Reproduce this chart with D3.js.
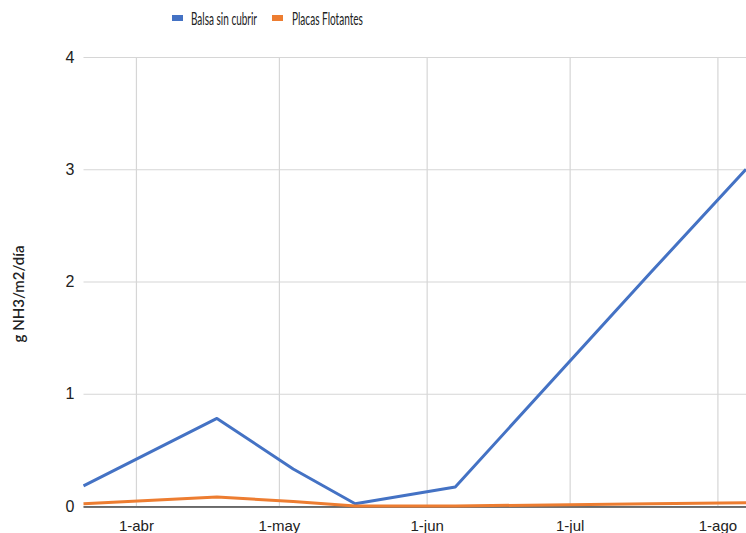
<!DOCTYPE html>
<html>
<head>
<meta charset="utf-8">
<script src="https://cdn.jsdelivr.net/npm/d3@7/dist/d3.min.js"></script>
<style>
  html, body { margin: 0; padding: 0; background: #fff; }
  svg { display: block; font-family: Lato, "Open Sans", sans-serif; }
</style>
</head>
<body>
<svg id="chart" width="746" height="533"></svg>
<script>
// Sampling dates (day-month) and daily NH3 emission per surface
const fechas = ["2021-03-21", "2021-04-18", "2021-05-04", "2021-05-17", "2021-06-07", "2021-07-18", "2021-08-07"];
const balsaSinCubrir = [0.18, 0.78, 0.33, 0.02, 0.17, 2.08, 3.0];
const placasFlotantes = [0.02, 0.08, 0.04, 0.0, 0.0, 0.02, 0.03];
const seriesNames = ["Balsa sin cubrir", "Placas Flotantes"];
const seriesColors = ["#4472C4", "#ED7D31"];
const monthTicks = ["2021-04-01", "2021-05-01", "2021-06-01", "2021-07-01", "2021-08-01"];
const monthLabels = ["1-abr", "1-may", "1-jun", "1-jul", "1-ago"];
const yTicks = [0, 1, 2, 3, 4];
const yTitle = "g NH3/m2/día";

const parse = d3.timeParse("%Y-%m-%d");
const dates = fechas.map(parse);
const tickDates = monthTicks.map(parse);

const svg = d3.select("#chart");
const margin = { left: 83.5, right: 0, top: 57, bottom: 27 };
const W = 746, H = 533;

const x = d3.scaleTime()
  .domain([dates[0], dates[dates.length - 1]])
  .range([margin.left, W - margin.right]);
const y = d3.scaleLinear()
  .domain([0, 4])
  .range([H - margin.bottom, margin.top]);

// Horizontal gridlines with value labels
const yAxis = d3.axisLeft(y)
  .tickValues(yTicks)
  .tickSize(-(W - margin.left))
  .tickPadding(9)
  .tickFormat(d3.format("d"));
const gy = svg.append("g")
  .attr("transform", `translate(${margin.left},0)`)
  .call(yAxis);
gy.select(".domain").remove();
gy.selectAll(".tick line").attr("stroke", "#d6d6d6").attr("stroke-width", 1.2);
gy.selectAll(".tick text")
  .attr("fill", "#222")
  .attr("font-size", 16);

// Vertical gridlines at the first day of each month
const xAxis = d3.axisBottom(x)
  .tickValues(tickDates)
  .tickSize(-(y(0) - y(4)))
  .tickPadding(14)
  .tickFormat((d, i) => monthLabels[i]);
const gx = svg.append("g")
  .attr("transform", `translate(0,${y(0)})`)
  .call(xAxis);
gx.select(".domain").remove();
gx.selectAll(".tick line").attr("stroke", "#d6d6d6").attr("stroke-width", 1.2);
gx.selectAll(".tick text")
  .attr("fill", "#222")
  .attr("font-size", 15);

// Baseline
svg.append("line")
  .attr("x1", margin.left).attr("x2", W)
  .attr("y1", y(0) + 1).attr("y2", y(0) + 1)
  .attr("stroke", "#444").attr("stroke-width", 1.5);

// Series lines
const line = d3.line()
  .x((d, i) => x(dates[i]))
  .y(d => y(d));
[balsaSinCubrir, placasFlotantes].forEach((vals, k) => {
  svg.append("path")
    .datum(vals)
    .attr("d", line)
    .attr("fill", "none")
    .attr("stroke", seriesColors[k])
    .attr("stroke-width", 3)
    .attr("stroke-linejoin", "round");
});

// Y title
svg.append("text")
  .attr("transform", `translate(24,294) rotate(-90)`)
  .attr("text-anchor", "middle")
  .attr("font-size", 15)
  .attr("font-weight", 600)
  .attr("fill", "#222")
  .text(yTitle);

// Legend: condensed labels, squeezed horizontally to a fixed width
const legendItems = [
  { rx: 172, tx: 191, tw: 66 },
  { rx: 272, tx: 292, tw: 71 }
];
const lg = svg.append("g");
legendItems.forEach((p, k) => {
  lg.append("rect")
    .attr("x", p.rx).attr("y", 15)
    .attr("width", 11).attr("height", 6)
    .attr("fill", seriesColors[k]);
  const t = lg.append("text")
    .attr("x", 0).attr("y", 0)
    .attr("font-size", 17)
    .attr("fill", "#222")
    .text(seriesNames[k]);
  const natural = t.node().getComputedTextLength();
  t.attr("transform", `translate(${p.tx},24.5) scale(${p.tw / natural},1)`);
});
</script>
</body>
</html>
